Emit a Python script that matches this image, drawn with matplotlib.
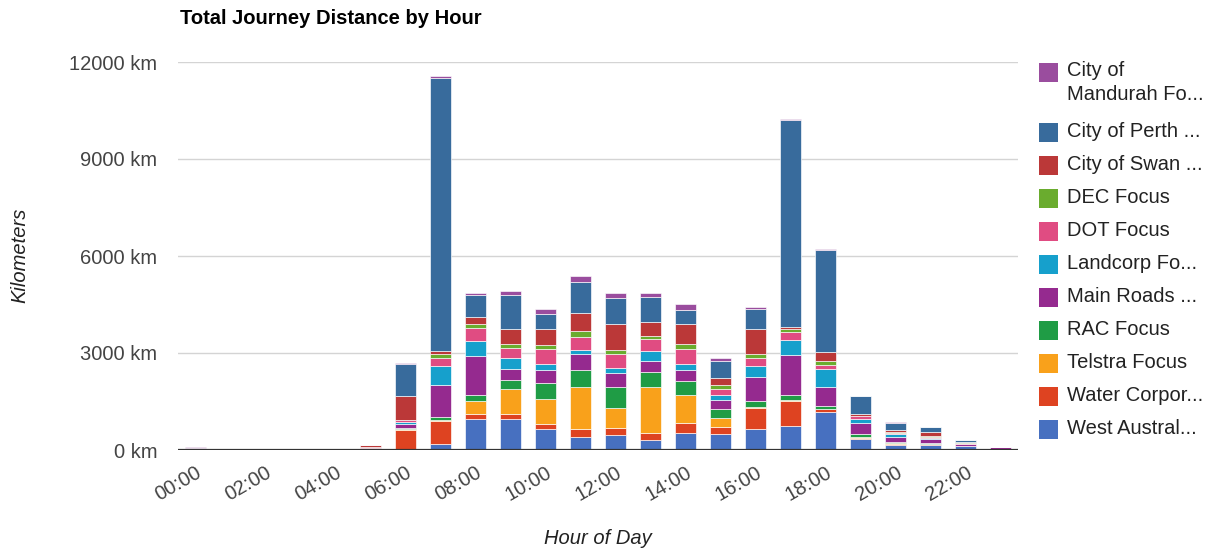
import matplotlib.pyplot as plt
from matplotlib.patches import Rectangle
import numpy as np

plt.rcParams['font.family'] = ['Liberation Sans', 'DejaVu Sans']

# 每小时各来源的行程距离 (km)
hours = list(range(24))
west     = [0, 0, 0, 0, 0, 0, 30, 196, 958, 948, 639, 412, 464, 309, 525, 505, 659, 742, 1185, 350, 155, 155, 124, 0]
water    = [0, 0, 0, 0, 0, 70, 590, 700, 155, 165, 175, 227, 227, 206, 319, 206, 639, 762, 72, 30, 40, 40, 0, 0]
telstra  = [0, 0, 0, 0, 0, 0, 40, 30, 391, 773, 773, 1308, 608, 1432, 845, 268, 31, 31, 20, 20, 20, 0, 0, 0]
rac      = [0, 0, 0, 0, 0, 0, 20, 100, 206, 268, 474, 515, 639, 474, 443, 278, 185, 155, 82, 93, 40, 30, 10, 0]
main_rd  = [60, 0, 0, 0, 0, 0, 130, 999, 1185, 340, 402, 494, 443, 330, 340, 278, 752, 1246, 587, 340, 155, 103, 50, 80]
landcorp = [0, 0, 0, 0, 0, 0, 50, 567, 464, 360, 185, 124, 165, 309, 175, 155, 340, 464, 567, 124, 82, 30, 10, 0]
dot      = [0, 0, 0, 0, 0, 30, 60, 258, 412, 299, 464, 412, 433, 361, 464, 185, 247, 258, 124, 82, 30, 50, 30, 0]
dec      = [0, 0, 0, 0, 0, 0, 20, 134, 124, 134, 124, 185, 124, 93, 175, 124, 103, 93, 113, 20, 20, 20, 10, 0]
swan     = [0, 0, 0, 0, 0, 40, 720, 93, 216, 443, 494, 546, 783, 453, 597, 237, 773, 62, 278, 50, 70, 130, 10, 0]
perth    = [0, 0, 0, 0, 0, 0, 1000, 8440, 690, 1050, 484, 979, 824, 762, 433, 515, 618, 6380, 3172, 546, 230, 140, 80, 0]
mandurah = [30, 0, 0, 0, 0, 0, 20, 60, 62, 124, 144, 185, 134, 124, 185, 82, 82, 40, 20, 10, 10, 10, 0, 20]

# 从下往上堆叠
series = [west, water, telstra, rac, main_rd, landcorp, dot, dec, swan, perth, mandurah]
labels = ['West Austral...', 'Water Corpor...', 'Telstra Focus', 'RAC Focus', 'Main Roads ...',
          'Landcorp Fo...', 'DOT Focus', 'DEC Focus', 'City of Swan ...', 'City of Perth ...',
          'City of\nMandurah Fo...']
colors = ['#4770c0', '#de4321', '#f9a11b', '#1f9c45', '#952a8f', '#16a0cc',
          '#e04c82', '#6aac2e', '#bb3838', '#386b9c', '#9a4d9e']

W, H = 1217, 554
fig = plt.figure(figsize=(W / 100, H / 100), dpi=100)
ax = fig.add_axes([178 / W, 1 - 450 / H, 840 / W, 388 / H])

bottom = np.zeros(24)
for vals, c in zip(series, colors):
    ax.bar(hours, vals, bottom=bottom, width=0.58, color=c,
           edgecolor='white', linewidth=0.45, zorder=2)
    bottom += np.array(vals)

ax.set_xlim(-0.5, 23.5)
ax.set_ylim(0, 12000)
ax.set_yticks(range(0, 12001, 3000))
ax.set_yticklabels([f'{v} km' for v in range(0, 12001, 3000)])
ax.yaxis.grid(True, color='#d4d4d4', linewidth=1, zorder=0)
ax.set_axisbelow(True)
ax.axhline(0, color='#333333', linewidth=1.6, zorder=3)
for s in ax.spines.values():
    s.set_visible(False)

ax.set_xticks(hours[::2])
ax.set_xticklabels([f'{h:02d}:00' for h in hours[::2]])
ax.tick_params(axis='y', length=0, pad=15, labelsize=14.5, labelcolor='#444444')
ax.tick_params(axis='x', length=0, pad=9, labelsize=14.5, labelcolor='#444444')
plt.setp(ax.get_xticklabels(), rotation=30, ha='right', va='top', rotation_mode='anchor')

ax.set_xlabel('Hour of Day', fontsize=14.5, style='italic', color='#222222', labelpad=18)
fig.text(20 / W, 1 - 255 / H, 'Kilometers', rotation=90, fontsize=14.5, style='italic',
         color='#222222', ha='center', va='center')
fig.text(180 / W, 1 - 18 / H, 'Total Journey Distance by Hour', fontsize=14.5,
         fontweight='bold', color='#000000', ha='left', va='center')

# 图例：从上往下
leg_y = [71.7] + [131.7 + 33 * i for i in range(10)]
for y, lab, c in zip(leg_y, labels[::-1], colors[::-1]):
    fig.add_artist(Rectangle(((1039) / W, 1 - (y + 10) / H), 19 / W, 19 / H,
                             transform=fig.transFigure, facecolor=c, edgecolor='none'))
    if '\n' in lab:
        fig.text(1067 / W, 1 - (y - 11) / H, lab, fontsize=14.5, color='#222222',
                 ha='left', va='top', linespacing=1.35)
    else:
        fig.text(1067 / W, 1 - y / H, lab, fontsize=14.5, color='#222222',
                 ha='left', va='center')

fig.savefig('out.png', dpi=100)
